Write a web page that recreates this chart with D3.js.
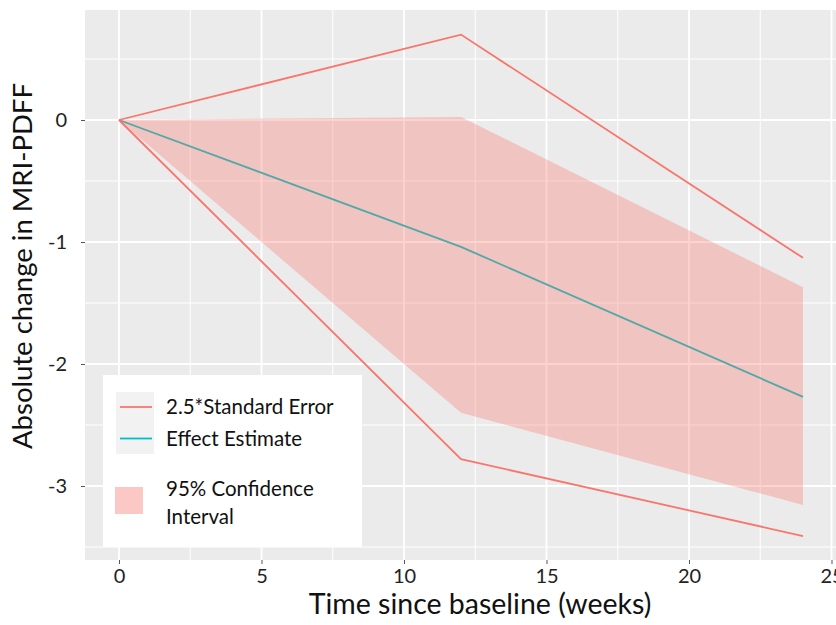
<!DOCTYPE html>
<html>
<head>
<meta charset="utf-8">
<script src="https://cdn.jsdelivr.net/npm/d3@7"></script>
<style>
  body { margin: 0; background: #fff; }
  text { font-family: Lato, "Open Sans", sans-serif; }
</style>
</head>
<body>
<svg id="chart" width="836" height="625"></svg>
<script>
// weeks since baseline
var weeks = [0, 12, 24];
// effect estimate
var effect = [0, -1.04, -2.27];
// 2.5 * standard error band (upper / lower lines)
var seUpper = [0, 0.70, -1.13];
var seLower = [0, -2.78, -3.41];
// 95% confidence interval ribbon
var ciUpper = [0, 0.025, -1.37];
var ciLower = [0, -2.40, -3.155];

var xTicks = [0, 5, 10, 15, 20, 25];
var yTicks = [0, -1, -2, -3];
var xMinor = [2.5, 7.5, 12.5, 17.5, 22.5];
var yMinor = [0.5, -0.5, -1.5, -2.5, -3.5];

var legendLines = ["2.5*Standard Error", "Effect Estimate"];
var legendFill = ["95% Confidence", "Interval"];

var red = "#f8766d", cyan = "#00bfc4";

var svg = d3.select("#chart");
var panel = {left: 85, top: 10, right: 836, bottom: 560};

var x = d3.scaleLinear().domain([0, 25]).range([119, 831.5]);
var y = d3.scaleLinear().domain([0, -3]).range([120, 486]);

/* panel background */
svg.append("rect")
  .attr("x", panel.left).attr("y", panel.top)
  .attr("width", panel.right - panel.left).attr("height", panel.bottom - panel.top)
  .attr("fill", "#ebebeb");

var grid = svg.append("g");
xMinor.forEach(function(d){
  grid.append("line").attr("x1", x(d)).attr("x2", x(d))
    .attr("y1", panel.top).attr("y2", panel.bottom)
    .attr("stroke", "#fff").attr("stroke-width", 1);
});
yMinor.forEach(function(d){
  grid.append("line").attr("y1", y(d)).attr("y2", y(d))
    .attr("x1", panel.left).attr("x2", panel.right)
    .attr("stroke", "#fff").attr("stroke-width", 1);
});
xTicks.forEach(function(d){
  grid.append("line").attr("x1", x(d)).attr("x2", x(d))
    .attr("y1", panel.top).attr("y2", panel.bottom)
    .attr("stroke", "#fff").attr("stroke-width", 1.8);
});
yTicks.forEach(function(d){
  grid.append("line").attr("y1", y(d)).attr("y2", y(d))
    .attr("x1", panel.left).attr("x2", panel.right)
    .attr("stroke", "#fff").attr("stroke-width", 1.8);
});

var rows = weeks.map(function(w, i){
  return {w: w, e: effect[i], su: seUpper[i], sl: seLower[i], cu: ciUpper[i], cl: ciLower[i]};
});

var line = function(key){
  return d3.line().x(function(d){ return x(d.w); }).y(function(d){ return y(d[key]); });
};

svg.append("path").datum(rows).attr("d", line("e"))
  .attr("fill", "none").attr("stroke", cyan).attr("stroke-width", 1.8);

svg.append("path").datum(rows)
  .attr("d", d3.area().x(function(d){ return x(d.w); })
    .y0(function(d){ return y(d.cl); }).y1(function(d){ return y(d.cu); }))
  .attr("fill", red).attr("fill-opacity", 0.33);

svg.append("path").datum(rows).attr("d", line("su"))
  .attr("fill", "none").attr("stroke", red).attr("stroke-width", 1.8);
svg.append("path").datum(rows).attr("d", line("sl"))
  .attr("fill", "none").attr("stroke", red).attr("stroke-width", 1.8);

/* axes */
var xAxis = svg.append("g").attr("transform", "translate(0," + panel.bottom + ")")
  .call(d3.axisBottom(x).tickValues(xTicks).tickSize(4).tickPadding(5));
var yAxis = svg.append("g").attr("transform", "translate(" + panel.left + ",0)")
  .call(d3.axisLeft(y).tickValues(yTicks).tickSize(4).tickPadding(14)
    .tickFormat(function(d){ return String(d); }));
[xAxis, yAxis].forEach(function(a){
  a.select(".domain").remove();
  a.selectAll(".tick line").attr("stroke", "#555");
  a.selectAll(".tick text").attr("fill", "#222")
    .style("font-family", "Lato, 'Open Sans', sans-serif").style("font-size", "20px");
});

svg.append("text").attr("x", 480).attr("y", 614)
  .attr("text-anchor", "middle").attr("font-size", 28.5).attr("fill", "#111")
  .text("Time since baseline (weeks)");
svg.append("text")
  .attr("transform", "translate(32,266) rotate(-90)")
  .attr("text-anchor", "middle").attr("font-size", 27.5).attr("fill", "#111")
  .text("Absolute change in MRI-PDFF");

/* legend */
var lg = svg.append("g");
lg.append("rect").attr("x", 103).attr("y", 375).attr("width", 259).attr("height", 172)
  .attr("fill", "#fff");
lg.append("rect").attr("x", 116).attr("y", 392).attr("width", 38).attr("height", 62)
  .attr("fill", "#f2f2f2");
var keyColors = [red, cyan];
legendLines.forEach(function(t, i){
  var ky = 407 + i * 31.5;
  lg.append("line").attr("x1", 120).attr("x2", 152).attr("y1", ky).attr("y2", ky)
    .attr("stroke", keyColors[i]).attr("stroke-width", 1.8);
  lg.append("text").attr("x", 166).attr("y", ky + 7).attr("font-size", 20.5).attr("fill", "#111").text(t);
});
lg.append("rect").attr("x", 115).attr("y", 487).attr("width", 28).attr("height", 27)
  .attr("fill", red).attr("fill-opacity", 0.4);
legendFill.forEach(function(t, i){
  lg.append("text").attr("x", 166).attr("y", 496 + i * 28).attr("font-size", 20.5).attr("fill", "#111").text(t);
});
</script>
</body>
</html>
